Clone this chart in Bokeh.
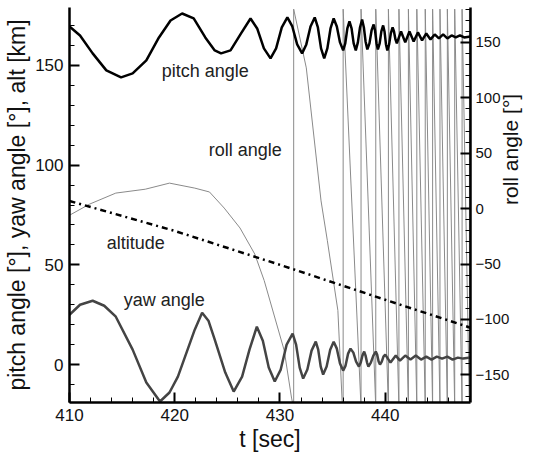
import math
from bokeh.plotting import figure
from bokeh.models import Range1d, LinearAxis, SingleIntervalTicker, Label
from bokeh.embed import file_html
from bokeh.resources import INLINE

# ---------------- data ----------------
pitch_t = [410, 411, 412.2, 413.5, 414.9, 416, 417.3, 418.5, 419.6, 420.7, 421.8, 422.9,
           423.8, 424.4, 425.3, 426.3, 427.2, 427.83, 428.47, 429.1, 429.63, 430.17, 430.7,
           431.17, 431.63, 432.1, 432.5, 432.9, 433.3, 433.6, 433.9, 434.2, 434.5, 434.8,
           435.1, 435.4, 435.7, 436.0, 436.2, 436.4, 436.6, 436.8, 437.0, 437.2, 437.4,
           437.6, 437.8, 437.97, 438.13, 438.3, 438.5, 438.7, 438.9, 439.03, 439.17, 439.3,
           439.47, 439.63, 439.8, 439.93, 440.07, 440.2, 440.37, 440.53, 440.7, 440.83,
           440.97, 441.1, 441.5, 441.9, 442.3, 442.7, 443.1, 443.5, 443.9, 444.3, 444.7,
           445.1, 445.5, 445.9, 446.3, 446.7, 447.1, 447.5, 448.1]
pitch_v = [169.5, 165, 156, 147.5, 144, 146, 152.5, 164, 172.5, 176, 173.5, 164,
           157.5, 156, 157.5, 166, 173.5, 168.5, 158.5, 153.5, 158.5, 169, 174,
           169.5, 160.5, 156, 160.5, 169.5, 174, 169, 158.5, 153.5, 158.5, 168.5,
           173.5, 169.5, 161.5, 157.5, 161, 168.5, 172, 168.5, 161, 157.5, 161.5,
           169, 173, 169, 162, 158, 161, 167.5, 170.5, 167.5, 161, 158,
           161, 167, 170, 167, 160.5, 157.5, 160.5, 166, 169, 167,
           163, 161, 167, 161.5, 167, 162, 166.5, 162.5, 166, 163, 165.5,
           163.5, 165.5, 163.5, 165, 164, 165, 164, 164.5]

yaw_t = [410, 411, 412.2, 413.3, 414.4, 416, 417.3, 418.6, 419.5, 420.3, 421.9, 422.6,
         423.2, 423.8, 424.8, 425.6, 426.4, 427.1, 427.8, 428.37, 428.93, 429.5, 430.07,
         430.63, 431.2, 431.53, 431.87, 432.2, 432.6, 433.0, 433.4, 433.63, 433.87, 434.1,
         434.43, 434.77, 435.1, 435.4, 435.7, 436.0, 436.23, 436.47, 436.7, 436.97, 437.23,
         437.5, 437.67, 437.83, 438.0, 438.13, 438.27, 438.4, 438.63, 438.87, 439.1, 439.23,
         439.37, 439.5, 439.67, 439.83, 440.0, 440.5, 441.0, 441.4, 441.9, 442.4, 442.9,
         443.4, 443.9, 444.4, 444.9, 445.4, 445.9, 446.4, 446.9, 447.4, 448.1]
yaw_v = [25, 30, 32, 29.5, 24, 7.5, -9, -18.5, -14, -6, 17.5, 26,
         22, 12.5, -4, -13.5, -6, 7.5, 19, 12, -1.5, -8.5, -2.5,
         10, 15.5, 10, -1.5, -7, -2.5, 7, 11.5, 7.5, -1, -5,
         -1, 7.5, 11.5, 8, 0.5, -3, -0.5, 5.5, 8, 6, 1.5,
         -1, 1, 4.5, 6.5, 4.5, 1, -1, 1, 4.5, 6.5, 5,
         1.5, 0, 1.5, 4, 5, 1, 4.5, 2, 4.5, 2.5, 4.5,
         2.5, 4, 2.5, 4, 3, 4, 2.5, 3.5, 3, 3.5]

alt_t = [410, 420, 430, 440, 448.1]
alt_v = [82, 67, 50, 32.5, 18.5]

roll_t = [410, 411.9, 414.4, 417.2, 419.5, 421.9, 423.3, 424.7, 426.2, 427.6, 428.5,
          430.4, 431.1, 431.3, 431.3, 432.5, 433.9, 434.5, 435.5, 435.9, 436.0,
          436.0, 437.7, 437.7, 439.1, 439.1, 440.3, 440.3, 441.3, 441.3, 442.2, 442.2,
          443.0, 443.0, 443.8, 443.8, 444.5, 444.5, 445.2, 445.2, 445.9, 445.9, 446.6,
          446.6, 447.3, 447.3, 448.0, 448.0]
roll_v = [-6, 4, 14, 17.5, 23, 18.5, 15, 0.5, -17.5, -41, -65,
          -128, -171, -180, 180, 127, 7, -29, -92, -173, -180,
          180, -180, 180, -180, 180, -180, 180, -180, 180, -180, 180,
          -180, 180, -180, 180, -180, 180, -180, 180, -180, 180, -180,
          180, -180, 180, -180, 180]

x_ticks_interval = 10
left_ticks_interval = 50
right_ticks_interval = 50

curve_labels = ["pitch angle", "roll angle", "altitude", "yaw angle"]
curve_label_pos = [(422.9, 147), (426.7, 107.5), (416.3, 61), (419.0, 32.5)]

FONT = "Liberation Sans"

p = figure(width=536, height=454, output_backend="svg", toolbar_location=None,
           x_range=Range1d(410, 448.1), y_range=Range1d(-19, 179),
           min_border_left=69, min_border_right=66, min_border_top=7,
           min_border_bottom=51, x_axis_label="t [sec]",
           y_axis_label="pitch angle [°], yaw angle [°], alt [km]")
p.extra_y_ranges = {"roll": Range1d(-175, 181.5)}
p.outline_line_color = None
p.grid.visible = False
p.background_fill_color = "white"
p.border_fill_color = "white"

p.xaxis.ticker = SingleIntervalTicker(interval=x_ticks_interval, num_minor_ticks=5)
p.yaxis.ticker = SingleIntervalTicker(interval=left_ticks_interval, num_minor_ticks=5)

raxis = LinearAxis(y_range_name="roll", axis_label="roll angle [°]",
                   ticker=SingleIntervalTicker(interval=right_ticks_interval, num_minor_ticks=5))
try:
    raxis.axis_label_orientation = math.pi / 2
except Exception:
    pass
p.add_layout(raxis, "right")

for ax in [p.xaxis[0], p.yaxis[0], raxis]:
    ax.axis_line_width = 2.5
    ax.axis_line_color = "black"
    ax.major_tick_in = 10
    ax.major_tick_out = 0
    ax.minor_tick_in = 5
    ax.minor_tick_out = 0
    ax.major_tick_line_width = 2
    ax.minor_tick_line_width = 1
    ax.major_tick_line_color = "black"
    ax.minor_tick_line_color = "black"
    ax.major_label_text_font = FONT
    ax.major_label_text_font_size = "17px"
    ax.major_label_text_color = "#111111"
    ax.axis_label_text_font = FONT
    ax.axis_label_text_font_size = "23px"
    ax.axis_label_text_font_style = "normal"
    ax.axis_label_text_color = "#111111"
    ax.major_label_standoff = 6
    ax.axis_label_standoff = 2
raxis.major_label_standoff = 5
raxis.axis_label_standoff = -2
raxis.major_label_text_font_size = "15px"
raxis.axis_label_text_font_size = "21px"

# curves
p.line(roll_t, roll_v, y_range_name="roll", line_color="#8a8a8a", line_width=1)
p.line(alt_t, alt_v, line_color="black", line_width=2.5, line_dash="dashdot")
p.line(yaw_t, yaw_v, line_color="#444444", line_width=2.5)
p.line(pitch_t, pitch_v, line_color="black", line_width=2.5)

for txt, (tx, ty) in zip(curve_labels, curve_label_pos):
    p.add_layout(Label(x=tx, y=ty, text=txt, text_font=FONT, text_font_size="18px",
                       text_color="#222222", text_align="center", text_baseline="middle"))

open("out.html", "w").write(file_html(p, INLINE))
